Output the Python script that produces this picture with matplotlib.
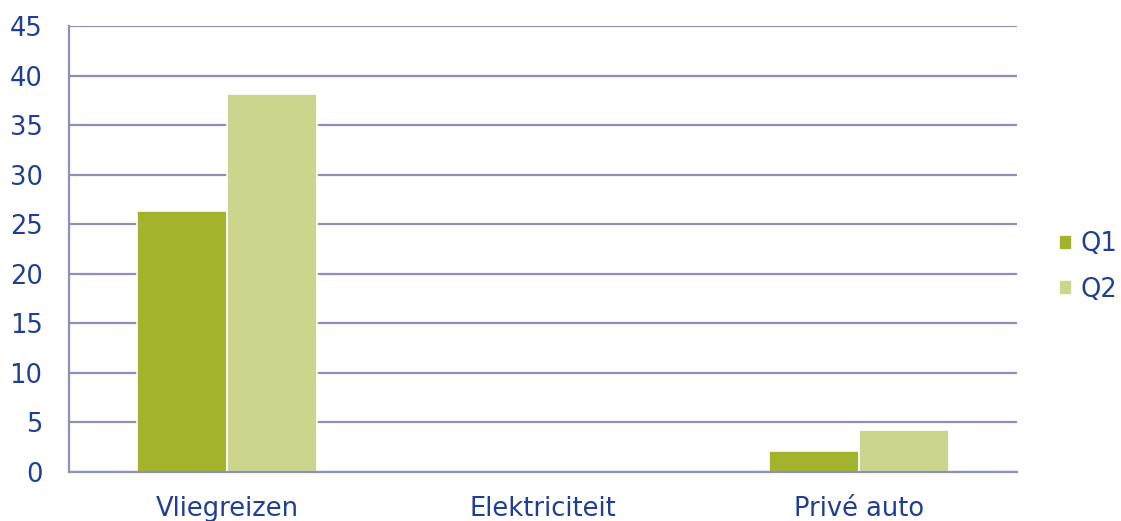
import matplotlib.pyplot as plt
import numpy as np

# data
categories = ['Vliegreizen', 'Elektriciteit', 'Privé auto']
q1 = [26.3, 0, 2.1]
q2 = [38.1, 0, 4.2]
yticks = [0, 5, 10, 15, 20, 25, 30, 35, 40, 45]

text_col = '#1f3f94'
grid_col = '#8f8fbb'
q1_col = '#a3b32c'
q2_col = '#cbd68c'

plt.rcParams['font.family'] = ['DejaVu Sans']

fig = plt.figure(figsize=(11.21, 5.21), dpi=100)
ax = fig.add_axes([69/1121, 1 - 472/521, (1017-69)/1121, (472-26)/521])

x = np.arange(len(categories))
w = 0.285
# zorder below the spines so empty bars don't paint over the axis line
ax.bar(x - w/2, q1, w, color=q1_col, edgecolor='white', linewidth=1.2, label='Q1', zorder=2)
ax.bar(x + w/2, q2, w, color=q2_col, edgecolor='white', linewidth=1.2, label='Q2', zorder=2)

ax.set_xlim(-0.5, 2.5)
ax.set_ylim(0, 45)
ax.set_yticks(yticks)
ax.set_xticks(x)
ax.set_xticklabels(categories)
ax.yaxis.grid(True, color=grid_col, linewidth=1.6, zorder=0)
ax.set_axisbelow(True)

for s in ['top', 'right']:
    ax.spines[s].set_visible(False)
for s in ['left', 'bottom']:
    ax.spines[s].set_color(grid_col)
    ax.spines[s].set_linewidth(1.6)
    ax.spines[s].set_zorder(2.5)

ax.tick_params(axis='both', length=0, labelsize=18.5, labelcolor=text_col)
ax.tick_params(axis='y', pad=19)
ax.tick_params(axis='x', pad=17)

handles, labels = ax.get_legend_handles_labels()
leg = fig.legend(handles, labels, loc='center left', bbox_to_anchor=(1059/1121, 1 - 267/521),
                 frameon=False, fontsize=18.5, handlelength=0.5, handleheight=0.5,
                 handletextpad=0.35, labelspacing=0.75, borderpad=0, borderaxespad=0)
for t in leg.get_texts():
    t.set_color(text_col)

fig.savefig('out.png', dpi=100)
